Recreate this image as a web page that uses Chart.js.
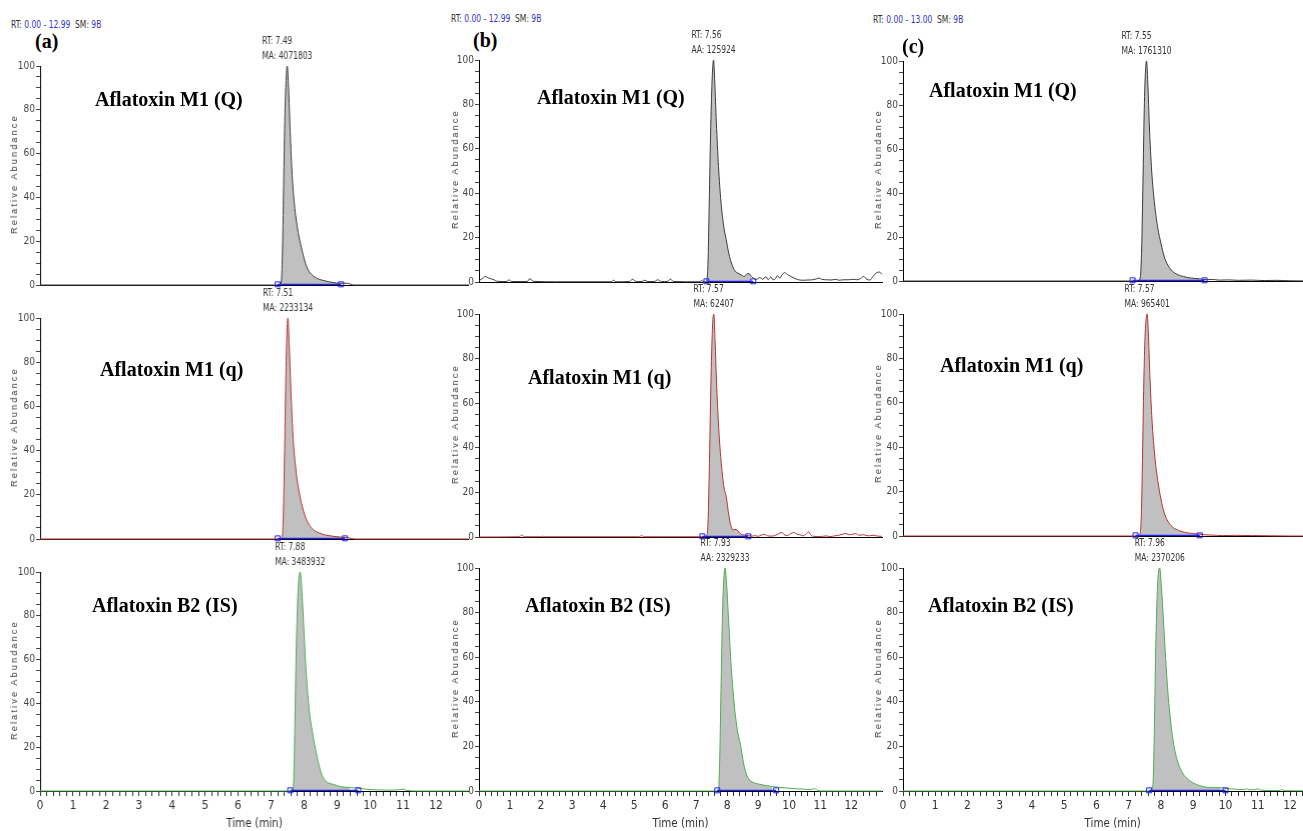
<!DOCTYPE html>
<html>
<head>
<meta charset="utf-8">
<script src="https://cdn.jsdelivr.net/npm/chart.js@4.4.1/dist/chart.umd.min.js"></script>
<style>
body { margin: 0; background: #fff; width: 1303px; height: 831px; overflow: hidden; position: relative; }
.box { position: absolute; }
.hdr { position: absolute; font: 10.5px "DejaVu Sans", sans-serif; font-stretch: condensed; color: #333; white-space: pre; line-height: 12px; transform: scaleX(0.8); transform-origin: 0 0; }
.hdr b { font-weight: normal; color: #3434c4; }
.lab { position: absolute; font: bold 20px "Liberation Serif", "DejaVu Serif", serif; color: #000; white-space: nowrap; line-height: 20px; }
.ytitle { position: absolute; font: 9px "Liberation Sans", Arial, sans-serif; letter-spacing: 2.2px; color: #333; transform: translate(-50%, -50%) rotate(-90deg); white-space: nowrap; }
</style>
</head>
<body>
<script>
// chromatogram traces: retention time (min) and relative abundance (%)
// column a
let timeA1 = [0, 7.20, 7.30, 7.34, 7.38, 7.42, 7.46, 7.49, 7.53, 7.58, 7.64, 7.72, 7.82, 7.92, 8.02, 8.12, 8.25, 8.40, 8.60, 8.85, 9.10, 9.30, 9.50, 12.99];
let abA1   = [0, 0, 0.5, 12, 45, 78, 95, 100, 90, 70, 50, 35, 24, 17, 11, 7, 4.5, 3, 2, 1.2, 0.8, 0.8, 0, 0];
let timeA2 = [0, 7.25, 7.33, 7.37, 7.41, 7.45, 7.48, 7.51, 7.55, 7.60, 7.66, 7.74, 7.84, 7.94, 8.04, 8.15, 8.28, 8.45, 8.65, 8.90, 9.15, 9.35, 9.55, 12.99];
let abA2   = [0, 0, 0.5, 10, 40, 75, 93, 100, 88, 68, 48, 33, 22, 15, 10, 6.5, 4.2, 2.8, 1.8, 1.2, 0.8, 0.5, 0, 0];
let timeA3 = [0, 7.60, 7.67, 7.71, 7.75, 7.80, 7.84, 7.88, 7.93, 7.99, 8.06, 8.15, 8.25, 8.35, 8.45, 8.55, 8.70, 8.90, 9.10, 9.40, 9.70, 9.90, 10.2, 10.6, 10.9, 11.0, 11.1, 11.4, 12.99];
let abA3   = [0, 0, 1, 20, 55, 85, 97, 100, 92, 75, 55, 38, 27, 19, 12, 7, 4, 3, 2, 1.6, 1.2, 0.8, 0.5, 0.4, 0.6, 0.9, 0.3, 0, 0];
// column b
let timeB1 = [0, 0.1, 0.2, 0.3, 0.45, 0.6, 0.9, 0.96, 1.05, 1.55, 1.64, 1.75, 2.5, 4.25, 4.34, 4.42, 4.85, 4.95, 5.05, 5.25, 5.34, 5.44, 5.65, 5.76, 5.88, 6.08, 6.17, 6.27, 7.1, 7.17, 7.25, 7.33,
              7.38, 7.42, 7.47, 7.52, 7.56, 7.60, 7.65, 7.72, 7.80, 7.90, 7.97, 8.05, 8.15, 8.25, 8.35, 8.45, 8.55, 8.62, 8.70, 8.78, 8.87,
              8.95, 9.05, 9.15, 9.25, 9.32, 9.40, 9.48, 9.55, 9.62, 9.70, 9.78, 9.86, 9.95, 10.05, 10.15, 10.3, 10.45, 10.6, 10.75, 10.88, 10.96, 11.05, 11.2, 11.35, 11.5, 11.6, 11.75, 11.9, 12.05, 12.2, 12.3, 12.4, 12.5, 12.6, 12.7, 12.8, 12.9, 12.99];
let abB1   = [0.5, 1.5, 2.5, 1.8, 1.2, 0.3, 0.2, 1.0, 0.2, 0.2, 1.5, 0.3, 0.1, 0.1, 0.8, 0.1, 0.2, 1.3, 0.3, 0.2, 0.8, 0.2, 0.2, 1.0, 0.2, 0.3, 1.3, 0.2, 0.1, 0.6, 0.1, 0.5,
              8, 35, 70, 93, 100, 90, 72, 52, 36, 24, 19, 13, 8, 5, 4, 3.2, 2.5, 3.5, 3.8, 2.5, 1.5,
              1.2, 2.0, 1.2, 2.4, 1.0, 2.2, 1.0, 1.4, 2.8, 1.8, 3.5, 4.2, 3.3, 2.5, 1.8, 1.0, 0.8, 0.9, 1.0, 1.4, 1.8, 1.2, 1.0, 0.9, 1.2, 0.8, 1.0, 1.0, 1.2, 1.0, 1.6, 2.5, 1.2, 0.9, 2.5, 4.0, 4.5, 3.5];
let timeB2 = [0, 1.30, 1.38, 1.46, 2.0, 2.05, 2.1, 5.18, 5.24, 5.30, 7.20,
              7.33, 7.38, 7.43, 7.48, 7.53, 7.57, 7.61, 7.66, 7.73, 7.81, 7.90, 7.97, 8.05, 8.12, 8.18, 8.25, 8.33, 8.42, 8.5, 8.6, 8.68,
              8.8, 8.9, 9.0, 9.1, 9.2, 9.3, 9.45, 9.6, 9.7, 9.77, 9.85, 9.95, 10.05, 10.15, 10.25, 10.35, 10.45, 10.55, 10.62, 10.7, 10.8, 11.0, 11.2, 11.3, 11.5, 11.6, 11.7, 11.83, 11.95, 12.05, 12.15, 12.25, 12.4, 12.55, 12.7, 12.85, 12.99];
let abB2   = [0, 0.1, 0.9, 0.1, 0.1, 0.4, 0.1, 0.1, 0.7, 0.1, 0.1,
              0.5, 6, 35, 72, 95, 100, 88, 68, 48, 33, 22, 18, 10, 5, 3.2, 3.4, 3.0, 1.5, 1.0, 0.8, 0.6,
              0.4, 0.6, 0.3, 0.9, 1.2, 0.5, 0.4, 1.0, 1.8, 2.0, 0.9, 0.7, 1.5, 2.0, 1.2, 1.0, 0.5, 1.5, 2.3, 0.8, 0.3, 0.2, 0.5, 0.2, 0.6, 0.8, 1.2, 1.5, 1.0, 1.3, 1.5, 0.8, 1.0, 0.5, 0.8, 0.4, 0.3];
let timeB3 = [0, 7.65, 7.72, 7.76, 7.80, 7.85, 7.90, 7.93, 7.98, 8.04, 8.12, 8.22, 8.32, 8.44, 8.52, 8.60, 8.72, 8.88, 9.05, 9.25, 9.45, 9.7, 9.95, 10.2, 10.5, 10.7, 10.78, 10.85, 10.92, 11.0, 12.99];
let abB3   = [0, 0, 1, 15, 45, 80, 97, 100, 93, 78, 58, 40, 28, 20, 13, 8.3, 5, 3.6, 3.0, 2.4, 2.0, 1.6, 1.3, 1.0, 0.8, 0.6, 1.0, 0.9, 0.2, 0, 0];
// column c
let timeC1 = [0, 7.30, 7.36, 7.40, 7.44, 7.48, 7.52, 7.55, 7.59, 7.64, 7.71, 7.80, 7.90, 8.00, 8.10, 8.22, 8.35, 8.50, 8.70, 8.95, 9.2, 9.4, 9.6, 9.8, 10.1, 10.4, 10.8, 11.2, 11.6, 12.0, 13.0];
let abC1   = [0, 0, 2, 15, 45, 78, 96, 100, 90, 70, 50, 35, 24, 17, 11, 7, 4.5, 3, 2, 1.3, 1.0, 0.6, 0.7, 0.4, 0.5, 0.3, 0.4, 0.2, 0.3, 0.1, 0];
let timeC2 = [0, 7.25, 7.33, 7.38, 7.42, 7.46, 7.50, 7.54, 7.57, 7.61, 7.66, 7.73, 7.82, 7.92, 8.02, 8.12, 8.24, 8.38, 8.55, 8.75, 9.00, 9.20, 9.40, 9.60, 9.90, 10.3, 10.8, 11.4, 12.0, 13.0];
let abC2   = [0, 0, 0.5, 6, 30, 65, 88, 98, 100, 90, 70, 50, 34, 23, 15, 9.5, 6, 3.8, 2.5, 1.6, 1.1, 0.8, 0.5, 0.4, 0.2, 0.3, 0.2, 0.1, 0, 0];
let timeC3 = [0, 7.60, 7.70, 7.75, 7.79, 7.83, 7.88, 7.92, 7.96, 8.01, 8.07, 8.14, 8.22, 8.30, 8.38, 8.48, 8.60, 8.72, 8.84, 9.00, 9.20, 9.40, 9.60, 9.85, 10.1, 10.4, 10.6, 10.65, 10.72, 10.9, 11.0, 11.08, 11.5, 11.7, 11.75, 11.8, 12.0, 13.0];
let abC3   = [0, 0, 0.3, 3, 25, 60, 88, 98, 100, 92, 78, 60, 43, 31, 22, 15, 10, 7, 5.2, 3.6, 2.4, 1.7, 1.5, 1.5, 1.0, 0.7, 0.6, 1.0, 0.6, 0.5, 1.0, 0.4, 0.2, 0.3, 0.7, 0.2, 0.1, 0];

// integration windows (start, end) in min, row by row
let windowsA = [[7.20, 9.12], [7.20, 9.24], [7.58, 9.64]];
let windowsB = [[7.33, 8.84], [7.20, 8.68], [7.68, 9.58]];
let windowsC = [[7.12, 9.35], [7.21, 9.20], [7.63, 10.00]];

// peak labels
let peakRT   = [[7.49, 7.56, 7.55], [7.51, 7.57, 7.57], [7.88, 7.93, 7.96]];
let peakArea = [["MA: 4071803", "AA: 125924", "MA: 1761310"],
                ["MA: 2233134", "MA: 62407", "MA: 965401"],
                ["MA: 3483932", "AA: 2329233", "MA: 2370206"]];
let rtRange  = ["0.00 - 12.99", "0.00 - 12.99", "0.00 - 13.00"];
let compounds = ["Aflatoxin M1 (Q)", "Aflatoxin M1 (q)", "Aflatoxin B2 (IS)"];
let letters = ["(a)", "(b)", "(c)"];
let xTicks = [0, 1, 2, 3, 4, 5, 6, 7, 8, 9, 10, 11, 12];
let yTicks = [0, 20, 40, 60, 80, 100];

// layout of the 3x3 grid (pixels)
let cols = [
    {L: 40,  pxMin: 33.0,  xMax: 12.99, tops: [66, 318, 572], bots: [285, 539, 791]},
    {L: 479, pxMin: 31.1,  xMax: 12.99, tops: [60, 314, 568], bots: [282, 537, 791]},
    {L: 903, pxMin: 32.33, xMax: 13.00, tops: [61, 314, 568], bots: [281, 536, 791]}
];
let traceColors = ["#3a3a3a", "#b8312f", "#4cae4c"];
let narrow = '"DejaVu Sans", sans-serif';

let traces = [
    [[timeA1, abA1], [timeB1, abB1], [timeC1, abC1]],
    [[timeA2, abA2], [timeB2, abB2], [timeC2, abC2]],
    [[timeA3, abA3], [timeB3, abB3], [timeC3, abC3]]
];
let windows = [windowsA, windowsB, windowsC];

function addDiv(cls, html, left, top) {
    let d = document.createElement("div");
    d.className = cls;
    d.innerHTML = html;
    d.style.left = left + "px";
    d.style.top = top + "px";
    document.body.appendChild(d);
    return d;
}

function makePanel(row, col) {
    let c = cols[col];
    let T = c.tops[row], B = c.bots[row];
    let W = c.xMax * c.pxMin;
    let bottomRow = row === 2;
    let padTop = 32, yw = 40, bh = bottomRow ? 40 : 0, padBottom = bottomRow ? 0 : 8;

    let box = document.createElement("div");
    box.className = "box";
    box.style.left = (c.L - yw) + "px";
    box.style.top = (T - padTop) + "px";
    box.style.width = (yw + W + 4) + "px";
    box.style.height = (padTop + (B - T) + bh + padBottom) + "px";
    let cv = document.createElement("canvas");
    box.appendChild(cv);
    document.body.appendChild(box);

    let [t, ab] = traces[row][col];
    let win = windows[col][row];
    let pts = t.map((x, i) => ({x: x, y: ab[i]}));
    let inside = pts.filter(p => p.x >= win[0] && p.x <= win[1]);
    let rt = peakRT[row][col], area = peakArea[row][col];

    // RT / area text above the peak, condensed like the instrument software
    let peakLabel = {
        id: "peakLabel",
        afterDraw(chart) {
            let ctx = chart.ctx;
            let x = chart.scales.x.getPixelForValue(rt);
            let top = chart.chartArea.top;
            let sx = 0.8;
            ctx.save();
            ctx.font = "condensed 10.5px " + narrow;
            ctx.fillStyle = "#333";
            ctx.textBaseline = "middle";
            let w = ctx.measureText(area).width * sx;
            ctx.translate(x - w / 2, 0);
            ctx.scale(sx, 1);
            ctx.fillText("RT: " + rt.toFixed(2), 0, top - 25);
            ctx.fillText(area, 0, top - 9.5);
            ctx.restore();
        }
    };

    new Chart(cv, {
        type: "line",
        data: {
            datasets: [
                {   // integration baseline with end markers
                    data: [{x: win[0], y: 0.3}, {x: win[1], y: 0.3}],
                    borderColor: "#1f1fff", borderWidth: 1.2,
                    pointStyle: "rect", pointRadius: 3.5, pointBorderColor: "#1f1fff",
                    pointBackgroundColor: "rgba(255,255,255,0)", pointBorderWidth: 1,
                    fill: false, clip: false, order: 0
                },
                {   // trace
                    data: pts, borderColor: traceColors[row], borderWidth: 1,
                    pointRadius: 0, fill: false, cubicInterpolationMode: "monotone",
                    clip: 4, order: 1
                },
                {   // integrated area
                    data: inside, borderWidth: 0, borderColor: "rgba(0,0,0,0)",
                    backgroundColor: "#c0c0c0", pointRadius: 0, fill: "origin",
                    cubicInterpolationMode: "monotone", clip: 4, order: 2
                }
            ]
        },
        options: {
            responsive: true, maintainAspectRatio: false, animation: false,
            layout: {padding: {top: padTop, right: 4, bottom: padBottom, left: 0}},
            plugins: {legend: {display: false}, tooltip: {enabled: false}},
            scales: {
                x: {
                    type: "linear", min: 0, max: c.xMax,
                    border: {display: true, color: "#000", width: 1},
                    grid: {display: bottomRow, drawOnChartArea: false, tickLength: 5, color: "#333"},
                    ticks: {
                        display: bottomRow, stepSize: 0.2, autoSkip: false, includeBounds: false,
                        maxRotation: 0, padding: 3, color: "#333",
                        font: {family: narrow, size: 12, weight: "condensed"},
                        callback: v => xTicks.includes(Math.round(v)) && Math.abs(v - Math.round(v)) < 1e-6 ? Math.round(v) : ""
                    },
                    title: {display: bottomRow, text: "Time (min)", color: "#333",
                            font: {family: narrow, size: 11.5, weight: "condensed"}, padding: {top: 0, bottom: 0}},
                    afterFit: s => { s.height = bh; }
                },
                y: {
                    min: 0, max: 100,
                    border: {display: true, color: "#000", width: 1},
                    grid: {drawOnChartArea: false, tickLength: 4, color: "#444"},
                    ticks: {
                        stepSize: 5, autoSkip: false, padding: 1, color: "#444",
                        font: {family: narrow, size: 10, weight: "condensed"},
                        callback: v => yTicks.includes(v) ? v : ""
                    },
                    afterFit: s => { s.width = yw; }
                }
            }
        },
        plugins: [peakLabel]
    });
}

// text around the panels
let hdrPos = [[11, 18], [451, 12], [873, 13]];
let letterXY = [[35, 31], [473, 30], [902, 36]];
let titleXY = [
    [[95, 89], [537, 87], [929, 80]],
    [[100, 359], [528, 367], [940, 355]],
    [[92, 595], [525, 595], [928, 595]]
];
let yTitleX = [14, 455, 878];

for (let col = 0; col < 3; col++) {
    addDiv("hdr", "RT: <b>" + rtRange[col] + "</b>  SM: <b>9B</b>", hdrPos[col][0], hdrPos[col][1]);
    addDiv("lab", letters[col], letterXY[col][0], letterXY[col][1]);
    for (let row = 0; row < 3; row++) {
        makePanel(row, col);
        addDiv("lab", compounds[row], titleXY[row][col][0], titleXY[row][col][1]);
        let c = cols[col];
        addDiv("ytitle", "Relative Abundance", yTitleX[col], (c.tops[row] + c.bots[row]) / 2 - 2);
    }
}
</script>
</body>
</html>
